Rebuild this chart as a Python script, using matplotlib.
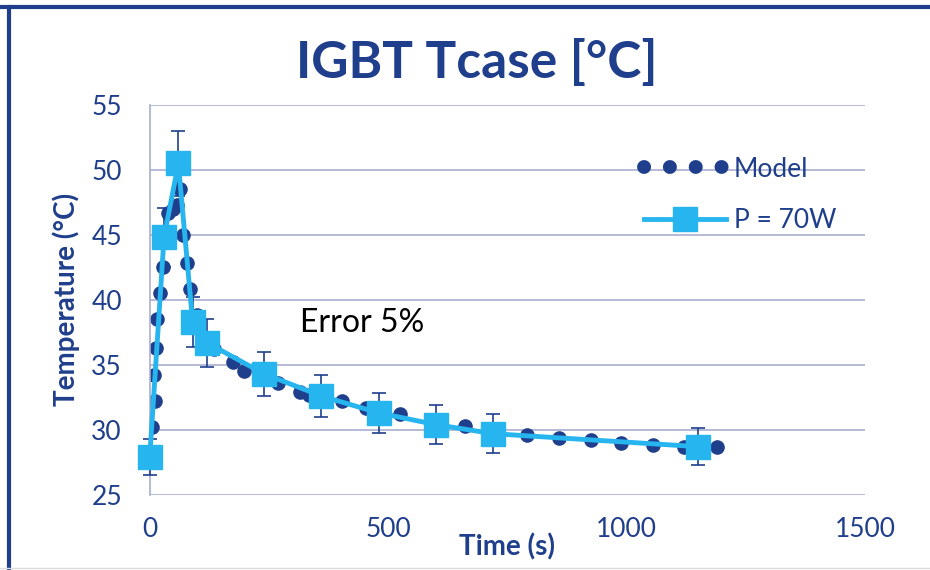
import matplotlib
matplotlib.use("Agg")
import matplotlib.pyplot as plt
from matplotlib.lines import Line2D
import numpy as np

# measured points, P = 70W
time_meas = [0, 30, 60, 90, 120, 240, 360, 480, 600, 720, 1150]
temp_meas = [27.9, 44.8, 50.5, 38.3, 36.7, 34.3, 32.6, 31.3, 30.4, 29.7, 28.7]
err_pct = 0.05

# model curve
time_model = [5, 9, 11, 13, 15, 21, 28, 38, 49, 58, 64, 70, 79, 85, 100, 134,
              174, 198, 270, 315, 334, 404, 453, 525, 662, 791, 859, 925,
              989, 1055, 1120, 1189]
temp_model = [30.2, 34.2, 32.2, 36.3, 38.5, 40.5, 42.5, 46.7, 47.0, 47.3, 48.5,
              45.0, 42.8, 40.8, 38.8, 36.2, 35.2, 34.5, 33.6, 32.9, 32.7, 32.2,
              31.7, 31.2, 30.3, 29.6, 29.4, 29.2, 29.0, 28.8, 28.7, 28.7]

dark = "#1f3f8c"
light = "#27b5ef"
grid = "#a9aed0"

plt.rcParams["font.family"] = ["Lato", "DejaVu Sans"]

fig = plt.figure(figsize=(9.3, 5.7), dpi=100)
ax = fig.add_axes([0.161, 0.132, 0.769, 0.684])

ax.plot(time_model, temp_model, linestyle="none", marker="o", ms=9.5,
        color=dark, zorder=2)
yerr = np.array(temp_meas) * err_pct
ax.errorbar(time_meas, temp_meas, yerr=yerr, color=light, lw=3.5,
            marker="s", ms=17, ecolor=dark, elinewidth=1.2, capsize=5,
            capthick=1.2, zorder=3, clip_on=False)

ax.set_xlim(0, 1500)
ax.set_ylim(25, 55)
ax.set_xticks([0, 500, 1000, 1500])
ax.set_yticks(range(25, 56, 5))
ax.yaxis.grid(True, color=grid, lw=1.2)
ax.set_axisbelow(True)
for s in ["top", "right", "bottom"]:
    ax.spines[s].set_visible(False)
ax.spines["left"].set_color(grid)
ax.spines["left"].set_linewidth(1.2)
ax.tick_params(length=0, labelsize=19, labelcolor=dark)
ax.tick_params(axis="y", pad=20)
ax.tick_params(axis="x", pad=16)

fig.text(0.545, 0.04, "Time (s)", fontsize=20, fontweight="bold", color=dark,
         ha="center", va="center")
ax.set_ylabel("Temperature (°C)", fontsize=20, fontweight="bold", color=dark,
              labelpad=8)

fig.text(0.513, 0.89, "IGBT Tcase [°C]", fontsize=37, fontweight="bold",
         color=dark, ha="center", va="center")
ax.text(315, 38.2, "Error 5%", fontsize=23, color="black", va="center")

handles = [
    Line2D([], [], linestyle=(0, (0.01, 1.85)), lw=10, dash_capstyle="round",
           color=dark),
    Line2D([], [], color=light, lw=3.5, marker="s", ms=17),
]
ax.legend(handles, ["Model", "P = 70W"], loc="upper right",
          bbox_to_anchor=(0.993, 0.928), frameon=False, fontsize=19,
          labelcolor=dark, handlelength=3.1, handletextpad=0.3,
          labelspacing=1.0)

# outer frame
fig.add_artist(Line2D([0, 1], [0.988, 0.988], color=dark, lw=3,
                      transform=fig.transFigure))
fig.add_artist(Line2D([0.01, 0.01], [0, 0.988], color=dark, lw=3,
                      transform=fig.transFigure))
fig.add_artist(Line2D([0, 1], [0.003, 0.003], color="#dddddd", lw=1,
                      transform=fig.transFigure))

fig.savefig("out.png", dpi=100)
